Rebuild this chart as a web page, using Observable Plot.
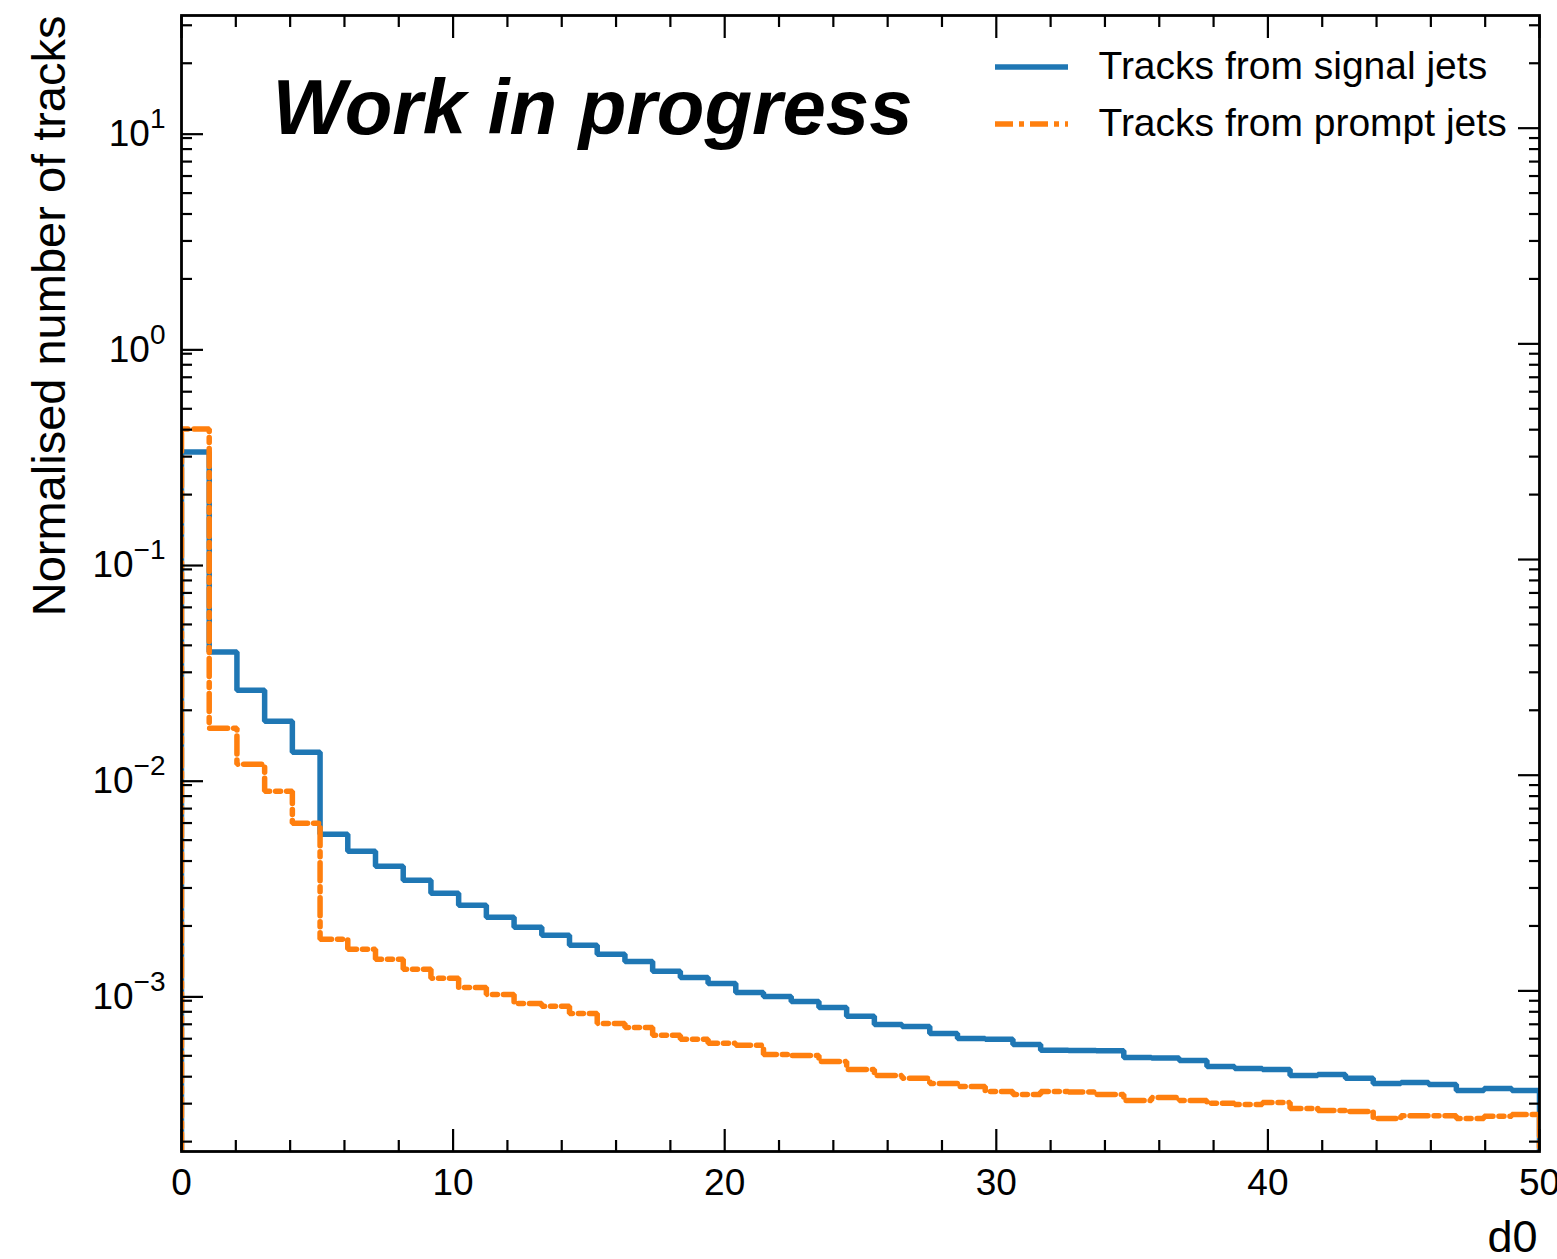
<!DOCTYPE html>
<html><head><meta charset="utf-8">
<script src="https://cdn.jsdelivr.net/npm/d3@7"></script>
<script src="https://cdn.jsdelivr.net/npm/@observablehq/plot@0.6"></script>
<style>
body{margin:0;background:#fff}
#chart svg{display:block}
</style>
</head><body><div id="chart"></div>
<script>
// ---- data ----
const binEdges = [0, 1.0204, 2.0408, 3.0612, 4.0816, 5.102, 6.1224, 7.1429, 8.1633, 9.1837,
  10.2041, 11.2245, 12.2449, 13.2653, 14.2857, 15.3061, 16.3265, 17.3469, 18.3673, 19.3878,
  20.4082, 21.4286, 22.449, 23.4694, 24.4898, 25.5102, 26.5306, 27.551, 28.5714, 29.5918,
  30.6122, 31.6327, 32.6531, 33.6735, 34.6939, 35.7143, 36.7347, 37.7551, 38.7755, 39.7959,
  40.8163, 41.8367, 42.8571, 43.8776, 44.898, 45.9184, 46.9388, 47.9592, 48.9796, 50];
const seriesNames = ["Tracks from signal jets", "Tracks from prompt jets"];
const signalValues = [0.3153, 0.03722, 0.0248, 0.01781, 0.01279, 0.005323, 0.004441, 0.003782, 0.003257, 0.002835,
  0.002493, 0.002193, 0.001971, 0.001809, 0.001626, 0.001477, 0.00137, 0.001232, 0.001155, 0.001083,
  0.000984, 0.000943, 0.000894, 0.000838, 0.000762, 0.000699, 0.000684, 0.000635, 0.000602, 0.000596,
  0.000564, 0.00053, 0.000529, 0.000528, 0.000491, 0.000489, 0.000476, 0.000446, 0.000437, 0.000432,
  0.000405, 0.00041, 0.000393, 0.000372, 0.000376, 0.000368, 0.000345, 0.000353, 0.000345];
const promptValues = [0.4033, 0.01652, 0.01125, 0.008428, 0.005988, 0.001734, 0.001558, 0.0014, 0.001259, 0.001143,
  0.001038, 0.000963, 0.000875, 0.000848, 0.000786, 0.000706, 0.000677, 0.000622, 0.000596, 0.000571,
  0.000559, 0.000507, 0.000502, 0.000471, 0.000432, 0.000405, 0.000393, 0.000372, 0.00036, 0.000342,
  0.000331, 0.000342, 0.00034, 0.000331, 0.00031, 0.00032, 0.00031, 0.000301, 0.000297, 0.000304,
  0.000285, 0.000279, 0.000276, 0.000256, 0.000264, 0.000264, 0.000256, 0.000262, 0.000267];
const xMajorTicks = [0, 10, 20, 30, 40, 50];
const xMinorTicks = [2, 4, 6, 8, 12, 14, 16, 18, 22, 24, 26, 28, 32, 34, 36, 38, 42, 44, 46, 48];
const yMajorTicks = [1e-3, 1e-2, 1e-1, 1, 10];
const yTickExponents = ["−3", "−2", "−1", "0", "1"];
const yMinorTicks = [2e-4, 3e-4, 4e-4, 5e-4, 6e-4, 7e-4, 8e-4, 9e-4,
  2e-3, 3e-3, 4e-3, 5e-3, 6e-3, 7e-3, 8e-3, 9e-3,
  2e-2, 3e-2, 4e-2, 5e-2, 6e-2, 7e-2, 8e-2, 9e-2,
  0.2, 0.3, 0.4, 0.5, 0.6, 0.7, 0.8, 0.9,
  2, 3, 4, 5, 6, 7, 8, 9, 20, 30];
const xDomain = [0, 50];
const yDomain = [1.8e-4, 33.3];
const xLabel = "d0";
const yLabel = "Normalised number of tracks";
const stampText = "Work in progress";

// ---- build step outlines (histtype=step) ----
function stepPoints(values) {
  const pts = [{x: binEdges[0], y: yDomain[0]}];
  values.forEach((v, i) => pts.push({x: binEdges[i], y: v}));
  const last = binEdges[binEdges.length - 1];
  pts.push({x: last, y: values[values.length - 1]});
  pts.push({x: last, y: yDomain[0]});
  return pts;
}
const signalPts = stepPoints(signalValues);
const promptPts = stepPoints(promptValues);

const BLUE = "#1f77b4", ORANGE = "#ff7f0e";
const LW = 5.5;
const DASH = "18,6,5,6";
const font = "'Liberation Sans', Arial, Helvetica, sans-serif";

function legendSwatches() {
  const g = d3.create("svg:g");
  g.append("line").attr("x1", 995).attr("x2", 1068).attr("y1", 67).attr("y2", 67)
    .attr("stroke", BLUE).attr("stroke-width", LW);
  g.append("line").attr("x1", 995).attr("x2", 1068).attr("y1", 124).attr("y2", 124)
    .attr("stroke", ORANGE).attr("stroke-width", LW).attr("stroke-dasharray", DASH);
  return g.node();
}

const tickW = 2.2;
const plot = Plot.plot({
  width: 1557,
  height: 1259,
  marginLeft: 181,
  marginRight: 18,
  marginTop: 15,
  marginBottom: 108,
  style: {fontFamily: font, fontSize: "37px", background: "#fff", color: "#000"},
  x: {type: "linear", domain: xDomain, label: null},
  y: {type: "log", domain: yDomain, label: null},
  marks: [
    Plot.line(signalPts, {x: "x", y: "y", curve: "step-after", stroke: BLUE, strokeWidth: LW, strokeLinejoin: "miter", clip: true}),
    Plot.line(promptPts, {x: "x", y: "y", curve: "step-after", stroke: ORANGE, strokeWidth: LW, strokeDasharray: DASH, strokeLinejoin: "miter", clip: true}),
    // bottom axis
    Plot.axisX({anchor: "bottom", ticks: xMajorTicks, tickSize: -22, tickPadding: 39, strokeWidth: tickW, tickFormat: d => String(d), label: null, fontSize: 37}),
    Plot.axisX({anchor: "bottom", ticks: xMinorTicks, tickSize: -11, strokeWidth: tickW, tickFormat: () => "", label: null}),
    // top axis
    Plot.axisX({anchor: "top", ticks: xMajorTicks, tickSize: -22, strokeWidth: tickW, tickFormat: () => "", label: null}),
    Plot.axisX({anchor: "top", ticks: xMinorTicks, tickSize: -11, strokeWidth: tickW, tickFormat: () => "", label: null}),
    // left axis
    Plot.axisY({anchor: "left", ticks: yMajorTicks, tickSize: -22, tickPadding: 38, dy: 6, strokeWidth: tickW,
      tickFormat: d => "10^" + yTickExponents[yMajorTicks.indexOf(d)], label: null, fontSize: 37}),
    Plot.axisY({anchor: "left", ticks: yMinorTicks, tickSize: -11, strokeWidth: tickW, tickFormat: () => "", label: null}),
    // right axis
    Plot.axisY({anchor: "right", ticks: yMajorTicks, tickSize: -22, strokeWidth: tickW, tickFormat: () => "", label: null}),
    Plot.axisY({anchor: "right", ticks: yMinorTicks, tickSize: -11, strokeWidth: tickW, tickFormat: () => "", label: null}),
    Plot.frame({stroke: "#000", strokeWidth: 2.8}),
    // axis labels
    Plot.text([yLabel], {frameAnchor: "top-left", text: d => d, rotate: -90, textAnchor: "end", lineAnchor: "bottom", dx: -117, dy: 0, fontSize: 47}),
    Plot.text([xLabel], {frameAnchor: "bottom-right", text: d => d, textAnchor: "end", lineAnchor: "bottom", dx: -2, dy: 100, fontSize: 45}),
    // stamp
    Plot.text([stampText], {frameAnchor: "top-left", text: d => d, textAnchor: "start", lineAnchor: "bottom", dx: 91, dy: 118, fontSize: 78, fontWeight: "bold", fontStyle: "italic"}),
    // legend
    legendSwatches,
    Plot.text([seriesNames[0]], {frameAnchor: "top-left", text: d => d, textAnchor: "start", lineAnchor: "bottom", dx: 917, dy: 63, fontSize: 39}),
    Plot.text([seriesNames[1]], {frameAnchor: "top-left", text: d => d, textAnchor: "start", lineAnchor: "bottom", dx: 917, dy: 120, fontSize: 39})
  ]
});

// superscript exponents on the log-axis labels
d3.select(plot).selectAll('g[aria-label="y-axis tick label"] text').each(function() {
  const t = d3.select(this);
  const s = t.text();
  if (s.indexOf("^") < 0) return;
  const [base, exp] = s.split("^");
  t.text(null);
  t.append("tspan").text(base);
  t.append("tspan").attr("dy", "-18").attr("font-size", "28px").text(exp);
});

document.getElementById("chart").appendChild(plot);
</script>
</body></html>
